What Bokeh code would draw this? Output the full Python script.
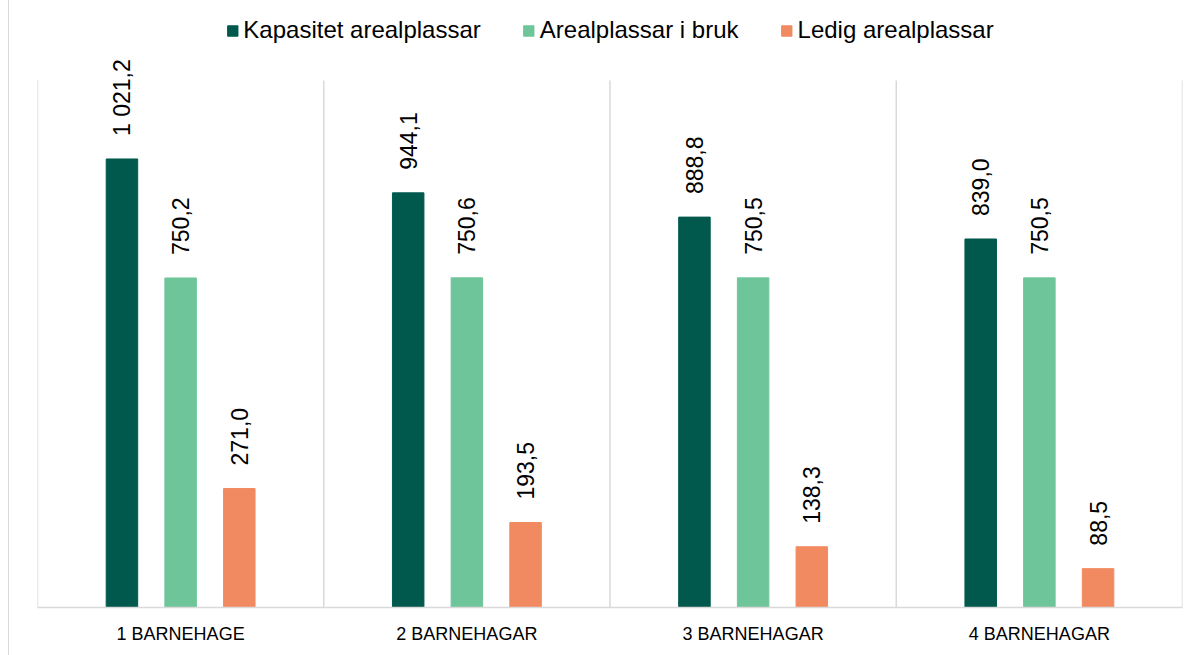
import math
from bokeh.plotting import figure
from bokeh.models import ColumnDataSource, FactorRange, Range1d, Legend, LegendItem
from bokeh.transform import dodge
from bokeh.core.properties import value
from bokeh.embed import file_html
from bokeh.resources import INLINE

categories = ["1 BARNEHAGE", "2 BARNEHAGAR", "3 BARNEHAGAR", "4 BARNEHAGAR"]
kapasitet = [1021.2, 944.1, 888.8, 839.0]
i_bruk = [750.2, 750.6, 750.5, 750.5]
ledig = [271.0, 193.5, 138.3, 88.5]
series_names = ["Kapasitet arealplassar", "Arealplassar i bruk", "Ledig arealplassar"]
colors = ["#00594C", "#6FC59A", "#F28A61"]


def fmt(v):
    s = f"{v:,.1f}"
    return s.replace(",", " ").replace(".", ",")


src = ColumnDataSource(dict(
    cat=categories,
    k=kapasitet, b=i_bruk, l=ledig,
    k_lbl=[fmt(v) for v in kapasitet],
    b_lbl=[fmt(v) for v in i_bruk],
    l_lbl=[fmt(v) for v in ledig],
))

FONT = "Liberation Sans"
GRID = "#d9d9d9"
Y_MAX_GRID = 1200

p = figure(
    x_range=FactorRange(*categories, range_padding=0),
    y_range=Range1d(0, 1382),
    width=1188, height=655,
    output_backend="svg", toolbar_location=None,
    min_border_left=28, min_border_right=15,
    min_border_top=0, min_border_bottom=48,
    styles={"margin-left": "8px", "border-left": "1px solid #d9d9d9"},
)
p.outline_line_color = None
p.xgrid.grid_line_color = None
p.ygrid.grid_line_color = None
p.yaxis.visible = False
p.background_fill_color = "white"
p.border_fill_color = "white"

# category separators
sep = ColumnDataSource(dict(cat=categories, y0=[0] * 4, y1=[Y_MAX_GRID] * 4))
p.segment(x0=dodge("cat", -0.5, range=p.x_range), x1=dodge("cat", -0.5, range=p.x_range),
          y0="y0", y1="y1", source=sep, line_color=GRID, line_width=1.5)
sep_end = ColumnDataSource(dict(cat=categories[-1:], y0=[0], y1=[Y_MAX_GRID]))
p.segment(x0=dodge("cat", 0.5, range=p.x_range), x1=dodge("cat", 0.5, range=p.x_range),
          y0="y0", y1="y1", source=sep_end, line_color=GRID, line_width=1.5)

offsets = [-0.205, 0.0, 0.205]
fields = ["k", "b", "l"]
renderers = []
for off, f, c in zip(offsets, fields, colors):
    r = p.vbar(x=dodge("cat", off, range=p.x_range), top=f, width=0.11,
               source=src, fill_color=c, line_color=c)
    renderers.append(r)
    p.text(x=dodge("cat", off, range=p.x_range), y=f, text=f + "_lbl",
           angle=math.pi / 2, text_align="left", text_baseline="middle",
           y_offset=-23, text_font=value(FONT), text_font_size="23px",
           text_color="#000000", source=src)

p.xaxis.axis_line_color = GRID
p.xaxis.axis_line_width = 1.5
p.xaxis.major_tick_line_color = None
p.xaxis.minor_tick_line_color = None
p.xaxis.major_label_text_font = FONT
p.xaxis.major_label_text_font_size = "18px"
p.xaxis.major_label_text_color = "#000000"
p.xaxis.major_label_standoff = 10

legend = Legend(
    items=[LegendItem(label=n, renderers=[r]) for n, r in zip(series_names, renderers)],
    orientation="horizontal", location="top_center",
    glyph_width=13, glyph_height=13, label_standoff=5, spacing=41,
    label_text_font=FONT, label_text_font_size="24px", label_text_color="#000000",
    border_line_color=None, background_fill_alpha=0, padding=0, margin=16,
)
p.add_layout(legend, "center")

open("out.html", "w").write(file_html(p, INLINE))
